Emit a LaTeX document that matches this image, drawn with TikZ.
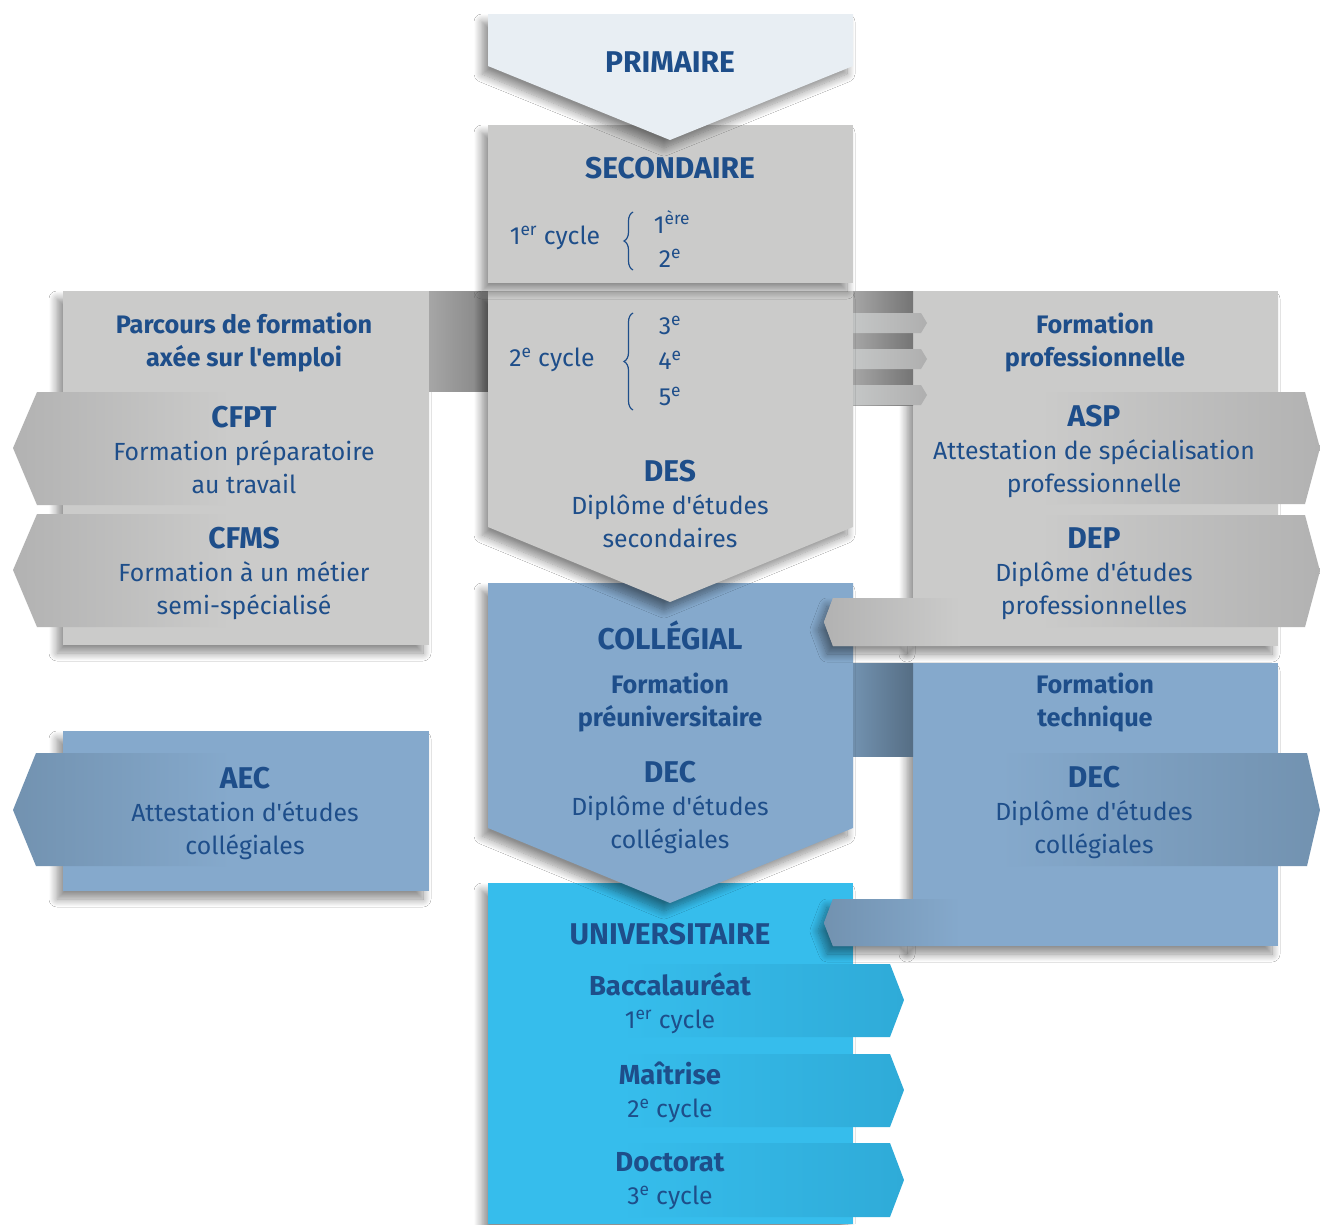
\documentclass[tikz,border=0pt]{standalone}
\usepackage{fontspec}
\setmainfont{Fira Sans}[Ligatures=TeXOff]
\usetikzlibrary{shadows.blur,decorations.pathreplacing}
\definecolor{tblue}{RGB}{30,78,138}
\definecolor{prim}{RGB}{232,238,243}
\definecolor{gry}{RGB}{203,203,202}
\definecolor{gryd}{RGB}{166,166,166}
\definecolor{grya}{RGB}{178,178,178}
\definecolor{gryl}{RGB}{196,198,198}
\definecolor{blu}{RGB}{133,169,204}
\definecolor{blud}{RGB}{114,146,176}
\definecolor{cya}{RGB}{54,189,236}
\definecolor{cyad}{RGB}{47,171,216}
\newcommand\hd[1]{{\fontsize{30}{33}\selectfont\bfseries #1}}
\newcommand\hb[1]{{\fontsize{27.5}{33}\selectfont\bfseries #1}}
\begin{document}
\begin{tikzpicture}[x=1pt,y=-1pt,
  txt/.style={text=tblue, align=center, inner sep=0pt, font=\fontsize{24.8}{33}\selectfont},
  btxt/.style={txt, font=\fontsize{25.3}{33}\selectfont\bfseries},
  shad/.style={blur shadow={shadow xshift=-6pt, shadow yshift=-8pt, shadow blur steps=12, shadow blur radius=8pt, shadow opacity=45}},
  bracestyle/.style={draw=tblue, line width=1.2pt, decorate, decoration={brace, amplitude=9pt}}
]
\useasboundingbox (0,0) rectangle (1320,1224);
\fill[white] (0,0) rectangle (1320,1224);

% ---------- universitaire ----------
\fill[cya, shad] (488,883) rectangle (853,1224);
\shade[left color=cya, right color=cyad] (620,964) -- (890,964) -- (904,1000) -- (890,1037) -- (620,1037) -- cycle;
\shade[left color=cya, right color=cyad] (620,1054) -- (890,1054) -- (904,1090) -- (890,1127) -- (620,1127) -- cycle;
\shade[left color=cya, right color=cyad] (620,1143) -- (890,1143) -- (904,1180) -- (890,1217) -- (620,1217) -- cycle;

% ---------- right blue panel ----------
\fill[blud, shad] (913,899) -- (833,899) -- (824,923) -- (833,946) -- (913,946) -- cycle;
\fill[blu, shad] (913,663) rectangle (1278,946);
\shade[left color=blud, right color=blud!75!black] (853,663) rectangle (913,756);
\shade[left color=blu, right color=blud] (1000,753) -- (1307,753) -- (1320,810) -- (1307,866) -- (1000,866) -- cycle;
\shade[left color=blud, right color=blu] (960,899) -- (833,899) -- (824,923) -- (833,946) -- (960,946) -- cycle;

% ---------- AEC panel ----------
\fill[blu, shad] (63,731) rectangle (429,891);
\shade[left color=blud, right color=blu] (230,753) -- (36,753) -- (13,810) -- (36,866) -- (230,866) -- cycle;

% ---------- collegial ----------
\fill[blu, shad] (488,583) -- (853,583) -- (853,828) -- (670,903) -- (488,828) -- cycle;

% ---------- right grey panel ----------
\fill[grya, shad] (913,598) -- (833,598) -- (824,622) -- (833,646) -- (913,646) -- cycle;
\fill[gry, shad] (913,291) rectangle (1278,646);
\shade[left color=gryd, right color=gryd!70!black] (853,291) rectangle (913,405);
\foreach \c in {323,359,395} {
  \shade[left color=gryl, right color=gryd!90!white] (853,\c-10) -- (921,\c-10) -- (927,\c) -- (921,\c+10) -- (853,\c+10) -- cycle;
}
\shade[left color=gry, right color=grya] (1040,392) -- (1305,392) -- (1320,448) -- (1305,504) -- (1040,504) -- cycle;
\shade[left color=gry, right color=grya] (1040,515) -- (1305,515) -- (1320,571) -- (1305,627) -- (1040,627) -- cycle;
\shade[left color=grya, right color=gry] (960,598) -- (833,598) -- (824,622) -- (833,646) -- (960,646) -- cycle;

% ---------- left grey panel ----------
\fill[gry, shad] (63,291) rectangle (429,645);
\shade[left color=gryd, right color=gryd!80!black] (429,291) rectangle (488,391);
\shade[left color=grya, right color=gry] (230,392) -- (37,392) -- (13,448) -- (37,505) -- (230,505) -- cycle;
\shade[left color=grya, right color=gry] (230,514) -- (37,514) -- (13,570) -- (37,627) -- (230,627) -- cycle;

% ---------- secondaire ----------
\fill[gry, shad] (488,291) -- (853,291) -- (853,527) -- (670,602) -- (488,527) -- cycle;
\fill[gry, shad] (488,125) rectangle (853,283);

% ---------- primaire ----------
\fill[prim, shad] (488,14) -- (853,14) -- (853,66) -- (670,140) -- (488,66) -- cycle;

% ---------- texts ----------
\node[txt] (primt) at (670,62) {\hd{PRIMAIRE}};
\node[txt] (sect) at (670,168) {\hd{SECONDAIRE}};
\node[txt] (cyc1) at (555,238) {1\textsuperscript{er} cycle};
\node[txt] (g1) at (672,222) {1\textsuperscript{ère}};
\node[txt] (g2) at (670,258) {2\textsuperscript{e}};
\draw[bracestyle] (633,270) -- (633,212);
\node[txt] (cyc2) at (552,360) {2\textsuperscript{e} cycle};
\node[txt] (g3) at (670,325) {3\textsuperscript{e}};
\node[txt] (g4) at (670,360) {4\textsuperscript{e}};
\node[txt] (g5) at (670,396) {5\textsuperscript{e}};
\draw[bracestyle] (633,410) -- (633,313);
\node[txt] (des) at (670,504) {\hd{DES}\\Diplôme d'études\\secondaires};

\node[btxt] (pfe) at (244,343) {Parcours de formation\\axée sur l'emploi};
\node[txt] (cfpt) at (244,450) {\hd{CFPT}\\Formation préparatoire\\au travail};
\node[txt] (cfms) at (244,573) {\hd{CFMS}\\Formation à un métier\\semi-spécialisé};

\node[btxt] (fp) at (1095,343) {Formation\\professionnelle};
\node[txt] (asp) at (1094,451) {\hd{ASP}\\Attestation de spécialisation\\professionnelle};
\node[txt] (dep) at (1094,574) {\hd{DEP}\\Diplôme d'études\\professionnelles};

\node[txt] (colt) at (670,635) {\hd{COLLÉGIAL}};
\node[btxt] (fpu) at (670,703) {Formation\\préuniversitaire};
\node[txt] (dec1) at (670,807) {\hd{DEC}\\Diplôme d'études\\collégiales};
\node[btxt] (ft) at (1095,703) {Formation\\technique};
\node[txt] (dec2) at (1094,812) {\hd{DEC}\\Diplôme d'études\\collégiales};
\node[txt] (aec) at (245,813) {\hd{AEC}\\Attestation d'études\\collégiales};

\node[txt] (unit) at (670,934) {\hd{UNIVERSITAIRE}};
\node[txt] (bac) at (670,1003) {\hb{Baccalauréat}\\1\textsuperscript{er} cycle};
\node[txt] (mai) at (670,1092) {\hb{Maîtrise}\\2\textsuperscript{e} cycle};
\node[txt] (doc) at (670,1181) {\hb{Doctorat}\\3\textsuperscript{e} cycle};
\end{tikzpicture}
\end{document}
